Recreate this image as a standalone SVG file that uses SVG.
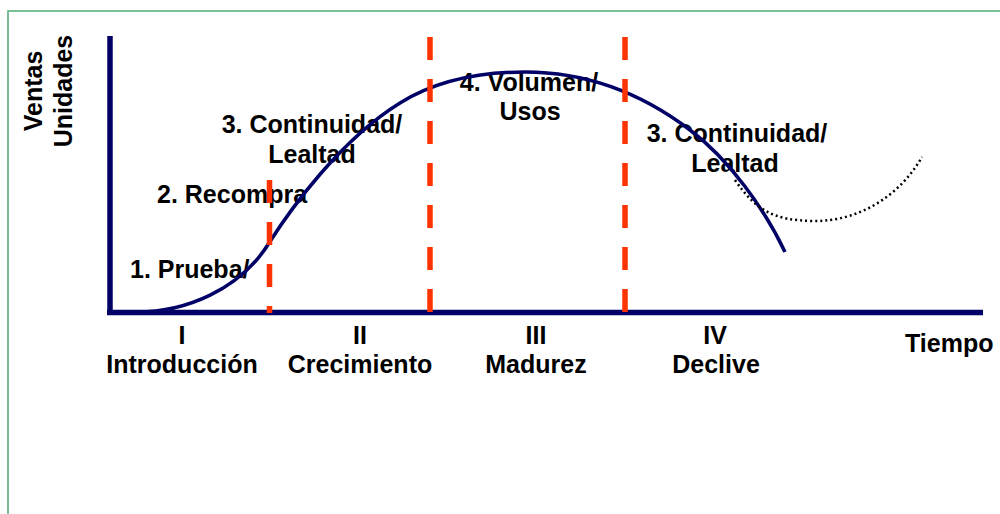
<svg xmlns="http://www.w3.org/2000/svg" width="1000" height="514" viewBox="0 0 1000 514">
  <style>
    .t { font-family: "Liberation Sans", Arial, sans-serif; font-weight: bold; font-size: 25px; fill: #000; }
    .m { text-anchor: middle; }
    .axis { stroke: #000066; stroke-width: 5.5; fill: none; }
    .curve { stroke: #000066; stroke-width: 3.5; fill: none; }
    .dash { stroke: #FF3300; stroke-width: 5.5; stroke-dasharray: 23 19; fill: none; }
    .dots { stroke: #000; stroke-width: 2.5; stroke-dasharray: 2 3; fill: none; }
  </style>
  <rect x="0" y="0" width="1000" height="514" fill="#fff"/>
  <rect id="frame" x="8" y="11" width="1010" height="520" fill="none" stroke="#5BAF7F" stroke-width="1.6"/>

  <g id="axes">
    <line class="axis" x1="110" y1="36" x2="110" y2="315"/>
    <line class="axis" x1="107" y1="312.5" x2="983" y2="312.5"/>
  </g>

  <g id="y-label">
    <text class="t m" transform="translate(41.5,91) rotate(-90)">Ventas</text>
    <text class="t m" transform="translate(71.5,91) rotate(-90)">Unidades</text>
  </g>

  <g id="stage-labels">
    <text class="t" x="130" y="278">1. Prueba/</text>
    <text class="t" x="157" y="203">2. Recompra</text>
    <text class="t m" x="312" y="133">3. Continuidad/</text>
    <text class="t m" x="312" y="163">Lealtad</text>
    <text class="t m" x="529" y="91">4. Volumen/</text>
    <text class="t m" x="530" y="120">Usos</text>
    <text class="t m" x="737" y="142">3. Continuidad/</text>
    <text class="t m" x="735" y="172">Lealtad</text>
  </g>

  <g id="connectors">
    <path class="curve" d="M137,312 C185,312 240,290 269,243 C290,210 340,140 400,103 C437,80 480,72 525,72 C585,72 640,92 690,130 C730,160 765,210 785,252"/>
    <path class="dots" d="M735,180 C757,212 775,220 812,221 C860,222 900,195 922,157"/>
    <line class="dash" x1="269.5" y1="180" x2="269.5" y2="313"/>
    <line class="dash" x1="430" y1="37" x2="430" y2="313"/>
    <line class="dash" x1="625" y1="37" x2="625" y2="313"/>
  </g>

  <g id="phase-I">
    <text class="t m" x="182" y="344">I</text>
    <text class="t m" x="182" y="373">Introducción</text>
  </g>
  <g id="phase-II">
    <text class="t m" x="360" y="344">II</text>
    <text class="t m" x="360" y="373">Crecimiento</text>
  </g>
  <g id="phase-III">
    <text class="t m" x="536" y="344">III</text>
    <text class="t m" x="536" y="373">Madurez</text>
  </g>
  <g id="phase-IV">
    <text class="t m" x="715" y="344">IV</text>
    <text class="t m" x="716" y="373">Declive</text>
  </g>
  <g id="x-label">
    <text class="t" x="905" y="352">Tiempo</text>
  </g>
</svg>
